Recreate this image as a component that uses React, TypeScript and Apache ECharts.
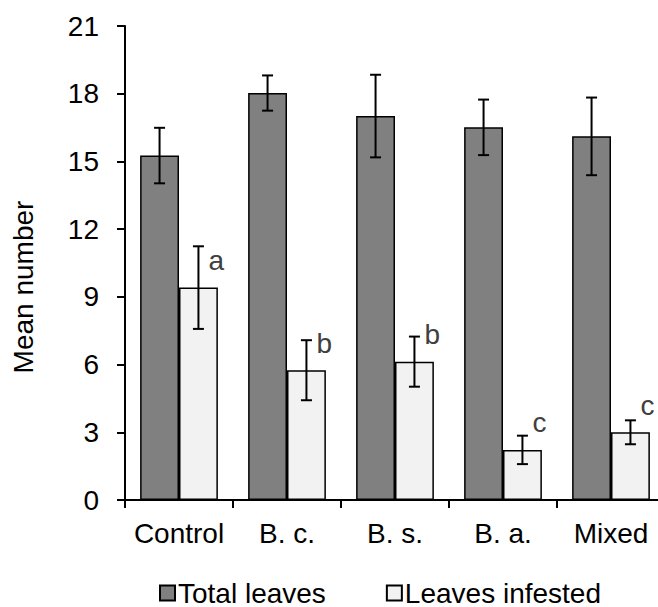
import React, { useEffect, useRef } from "react";
import * as echarts from "echarts";

const categories = ["Control", "B. c.", "B. s.", "B. a.", "Mixed"];
const totalLeaves = [15.26, 18.03, 17.01, 16.51, 16.11];
const totalLeavesErr = [1.23, 0.78, 1.83, 1.23, 1.72];
const leavesInfested = [9.41, 5.75, 6.13, 2.22, 3.0];
const leavesInfestedErr = [1.83, 1.33, 1.11, 0.63, 0.53];
const letters = ["a", "b", "b", "c", "c"];
const yTicks = { min: 0, max: 21, interval: 3 };

const FONT = "Liberation Sans, Arial, sans-serif";
const FS = 28;
const CAT_GAP = 0.28;

export default function App() {
  const ref = useRef<HTMLDivElement>(null);
  useEffect(() => {
    if (!ref.current) return;
    const chart = echarts.init(ref.current, undefined, { renderer: "svg" });

    const makeErr = (vals: number[], errs: number[], side: number, withLetters: boolean) => ({
      type: "custom",
      z: 5,
      data: vals.map((v, i) => [i, v, errs[i]]),
      renderItem: (params: any, api: any) => {
        const idx = api.value(0);
        const v = api.value(1);
        const e = api.value(2);
        const band = api.size([1, 0])[0];
        const bw = (band * (1 - CAT_GAP)) / 2;
        const c = api.coord([idx, v]);
        const x = c[0] + (side * bw) / 2;
        const hi = api.coord([idx, v + e])[1];
        const lo = api.coord([idx, v - e])[1];
        const cap = 5.5;
        const ls = { stroke: "#000", lineWidth: 2 };
        const children: any[] = [
          { type: "line", shape: { x1: x, y1: hi, x2: x, y2: lo }, style: ls },
          { type: "line", shape: { x1: x - cap, y1: hi, x2: x + cap, y2: hi }, style: ls },
          { type: "line", shape: { x1: x - cap, y1: lo, x2: x + cap, y2: lo }, style: ls },
        ];
        if (withLetters) {
          children.push({
            type: "text",
            style: {
              text: letters[params.dataIndex],
              x: x + 10,
              y: c[1] - 13,
              align: "left",
              verticalAlign: "bottom",
              fill: "#404040",
              fontSize: FS,
              fontFamily: FONT,
            },
          });
        }
        return { type: "group", children };
      },
    });

    chart.setOption({
      animation: false,
      textStyle: { fontFamily: FONT },
      grid: { left: 125, top: 26, width: 540, bottom: 107, containLabel: false },
      legend: {
        left: 154,
        top: 574,
        itemWidth: 15,
        itemHeight: 15,
        itemGap: 60,
        icon: "rect",
        textStyle: { fontSize: FS, color: "#000", fontFamily: FONT, padding: [0, 0, 0, -2] },
        data: ["Total leaves", "Leaves infested"],
      },
      graphic: [
        {
          type: "text",
          x: 23,
          y: 287,
          rotation: Math.PI / 2,
          style: {
            text: "Mean number",
            fontSize: FS,
            fontFamily: FONT,
            fill: "#000",
            align: "center",
            verticalAlign: "middle",
          },
        },
      ],
      xAxis: {
        type: "category",
        data: categories,
        axisLine: { lineStyle: { color: "#000", width: 2 } },
        axisTick: { show: true, length: 8, lineStyle: { color: "#000", width: 2 } },
        axisLabel: { color: "#000", fontSize: FS, fontFamily: FONT, margin: 19, interval: 0 },
      },
      yAxis: {
        type: "value",
        min: yTicks.min,
        max: yTicks.max,
        interval: yTicks.interval,
        axisLine: { show: true, lineStyle: { color: "#000", width: 2 } },
        axisTick: { show: true, length: 8, lineStyle: { color: "#000", width: 2 } },
        axisLabel: { color: "#000", fontSize: FS, fontFamily: FONT, margin: 26 },
        splitLine: { show: false },
      },
      series: [
        {
          name: "Total leaves",
          type: "bar",
          data: totalLeaves,
          barGap: "0%",
          barCategoryGap: "28%",
          itemStyle: { color: "#808080", borderColor: "#000", borderWidth: 1.5 },
        },
        {
          name: "Leaves infested",
          type: "bar",
          data: leavesInfested,
          barGap: "0%",
          barCategoryGap: "28%",
          itemStyle: { color: "#f2f2f2", borderColor: "#000", borderWidth: 1.5 },
        },
        makeErr(totalLeaves, totalLeavesErr, -1, false),
        makeErr(leavesInfested, leavesInfestedErr, 1, true),
      ],
    });
    return () => chart.dispose();
  }, []);
  return (
    <div
      style={{ position: "fixed", left: 0, top: 0, width: 658, height: 607, overflow: "hidden", background: "#fff" }}
    >
      <div ref={ref} style={{ width: 680, height: 607 }} />
    </div>
  );
}
